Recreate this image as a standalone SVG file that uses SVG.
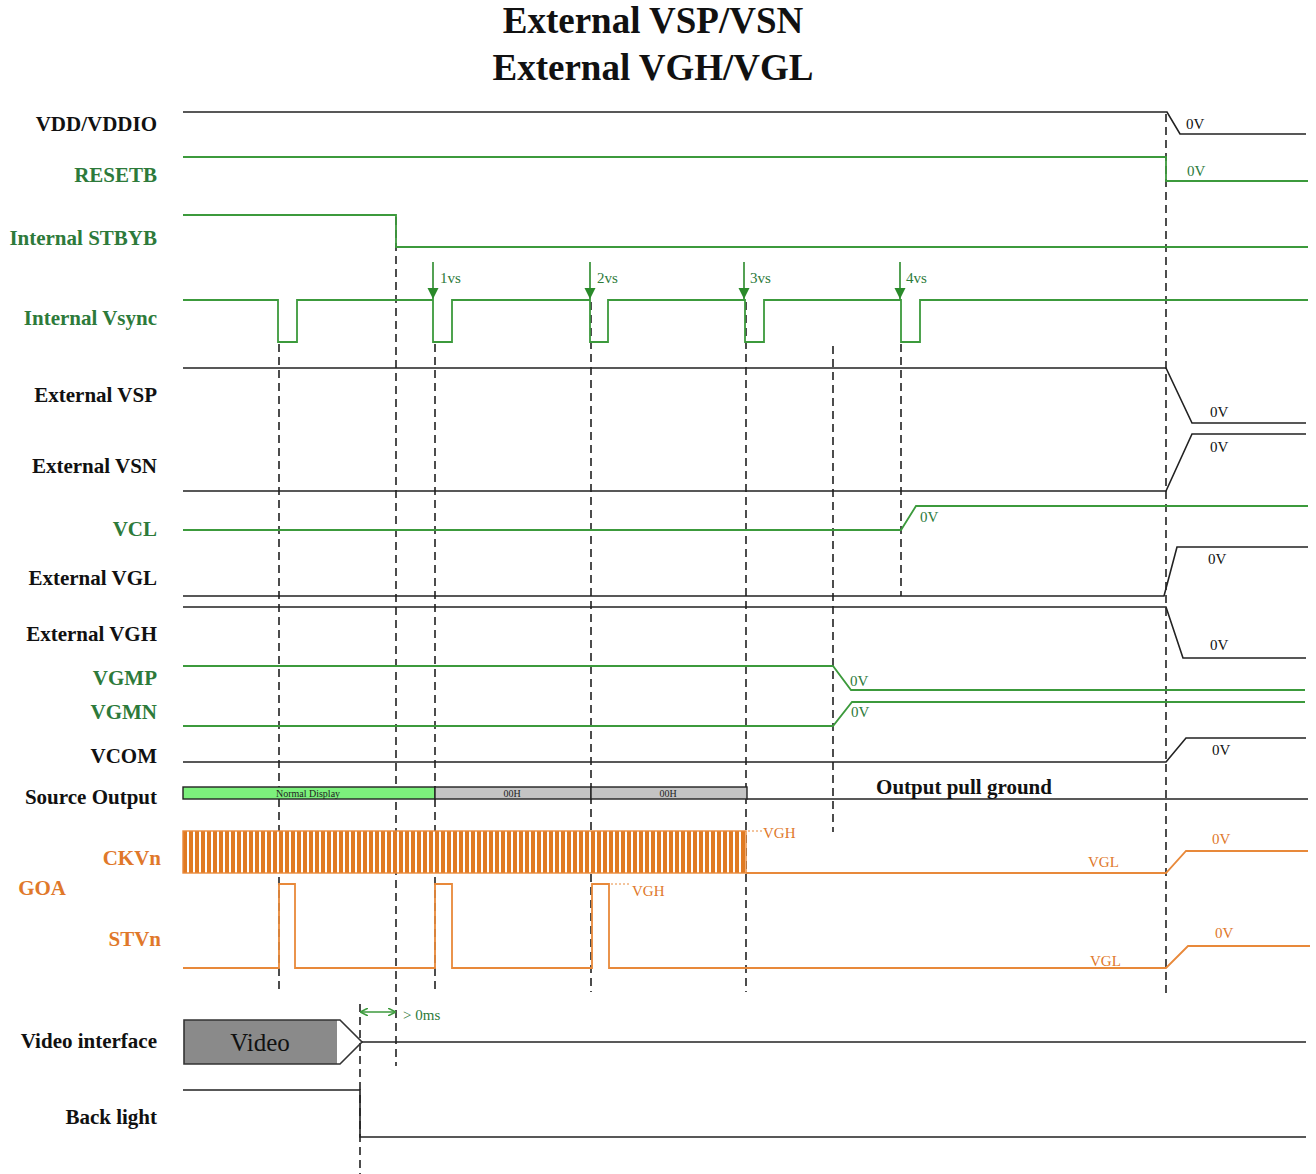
<svg xmlns="http://www.w3.org/2000/svg" width="1316" height="1174" viewBox="0 0 1316 1174">
<style>
.lbl{font-family:"Liberation Serif","Times New Roman",serif;font-weight:bold;font-size:21px;text-anchor:end}
.blk{fill:#111}
.grn{fill:#2d7a3a}
.org{fill:#e0782a}
.title{font-family:"Liberation Serif","Times New Roman",serif;font-weight:bold;font-size:37px;text-anchor:middle;fill:#111}
.sm{font-family:"Liberation Serif","Times New Roman",serif;font-size:15px}
.tiny{font-family:"Liberation Serif","Times New Roman",serif;font-size:10px;text-anchor:middle;fill:#222}
.wb{fill:none;stroke:#222;stroke-width:1.6}
.wg{fill:none;stroke:#3c9a3c;stroke-width:1.8}
.wo{fill:none;stroke:#e8893a;stroke-width:1.8}
.dash{fill:none;stroke:#3a3a3a;stroke-width:1.8;stroke-dasharray:8 5}
.lead{fill:none;stroke:#e8893a;stroke-width:1;stroke-dasharray:2 2}
</style>
<defs>
<marker id="ah" viewBox="0 0 10 10" refX="10" refY="5" markerWidth="11" markerHeight="12" markerUnits="userSpaceOnUse" orient="auto-start-reverse">
<path d="M0,0 L10,5 L0,10 z" fill="#2a8a2a"/>
</marker>
<marker id="ao" viewBox="0 0 10 10" refX="9" refY="5" markerWidth="8" markerHeight="8" markerUnits="userSpaceOnUse" orient="auto-start-reverse">
<path d="M0,0 L10,5 L0,10" fill="none" stroke="#3c9a3c" stroke-width="2"/>
</marker>
<pattern id="hatch" x="183" y="0" width="6" height="10" patternUnits="userSpaceOnUse">
<rect x="0" y="0" width="6" height="10" fill="#e07a22"/>
<rect x="4" y="0" width="2" height="10" fill="#ffffff"/>
</pattern>
</defs>
<rect width="1316" height="1174" fill="#ffffff"/>

<g id="title">
<text class="title" x="653" y="33">External VSP/VSN</text>
<text class="title" x="653" y="80">External VGH/VGL</text>
</g>

<g id="connectors">
<line class="dash" x1="279" y1="344" x2="279" y2="992"/>
<line class="dash" x1="396" y1="217" x2="396" y2="1066"/>
<line class="dash" x1="435" y1="344" x2="435" y2="992"/>
<line class="dash" x1="591" y1="302" x2="591" y2="992"/>
<line class="dash" x1="746" y1="302" x2="746" y2="992"/>
<line class="dash" x1="833" y1="346" x2="833" y2="832"/>
<line class="dash" x1="901" y1="344" x2="901" y2="596"/>
<line class="dash" x1="1166" y1="114" x2="1166" y2="996"/>
<line class="dash" x1="360" y1="1004" x2="360" y2="1174"/>
<line x1="433" y1="262" x2="433" y2="299" stroke="#2a8a2a" stroke-width="1.6" marker-end="url(#ah)"/>
<line x1="590" y1="262" x2="590" y2="299" stroke="#2a8a2a" stroke-width="1.6" marker-end="url(#ah)"/>
<line x1="744" y1="262" x2="744" y2="299" stroke="#2a8a2a" stroke-width="1.6" marker-end="url(#ah)"/>
<line x1="900" y1="262" x2="900" y2="299" stroke="#2a8a2a" stroke-width="1.6" marker-end="url(#ah)"/>
<line x1="361" y1="1012" x2="395" y2="1012" stroke="#3c9a3c" stroke-width="1.6" marker-start="url(#ao)" marker-end="url(#ao)"/>
</g>

<g id="vdd">
<text class="lbl blk" x="157" y="131">VDD/VDDIO</text>
<path class="wb" d="M183,112 H1167 L1180,134 H1306"/>
<text class="sm blk" x="1186" y="129">0V</text>
</g>

<g id="resetb">
<text class="lbl grn" x="157" y="182">RESETB</text>
<path class="wg" d="M183,157 H1166 V181 H1308"/>
<text class="sm grn" x="1187" y="176">0V</text>
</g>

<g id="stbyb">
<text class="lbl grn" x="157" y="245">Internal STBYB</text>
<path class="wg" d="M183,215 H396 V247 H1308"/>
</g>

<g id="vsync">
<text class="lbl grn" x="157" y="325">Internal Vsync</text>
<path class="wg" d="M183,300 H278 V342 H297 V300 H433 V342 H452 V300 H590 V342 H608 V300 H745 V342 H764 V300 H901 V342 H920 V300 H1308"/>
<text class="sm grn" x="440" y="283">1vs</text>
<text class="sm grn" x="597" y="283">2vs</text>
<text class="sm grn" x="750" y="283">3vs</text>
<text class="sm grn" x="906" y="283">4vs</text>
</g>

<g id="vsp">
<text class="lbl blk" x="157" y="402">External VSP</text>
<path class="wb" d="M183,368 H1166 L1192,423 H1306"/>
<text class="sm blk" x="1210" y="417">0V</text>
</g>

<g id="vsn">
<text class="lbl blk" x="157" y="473">External VSN</text>
<path class="wb" d="M183,491 H1166 L1192,434 H1306"/>
<text class="sm blk" x="1210" y="452">0V</text>
</g>

<g id="vcl">
<text class="lbl grn" x="157" y="536">VCL</text>
<path class="wg" d="M183,530 H901 L916,506 H1308"/>
<text class="sm grn" x="920" y="522">0V</text>
</g>

<g id="vgl">
<text class="lbl blk" x="157" y="585">External VGL</text>
<path class="wb" d="M183,596 H1164 L1177,547 H1308"/>
<text class="sm blk" x="1208" y="564">0V</text>
</g>

<g id="vgh">
<text class="lbl blk" x="157" y="641">External VGH</text>
<path class="wb" d="M183,607 H1166 L1183,658 H1306"/>
<text class="sm blk" x="1210" y="650">0V</text>
</g>

<g id="vgmp">
<text class="lbl grn" x="157" y="685">VGMP</text>
<path class="wg" d="M183,666 H833 L851,690 H1305"/>
<text class="sm grn" x="850" y="686">0V</text>
</g>

<g id="vgmn">
<text class="lbl grn" x="157" y="719">VGMN</text>
<path class="wg" d="M183,726 H833 L852,702 H1305"/>
<text class="sm grn" x="851" y="717">0V</text>
</g>

<g id="vcom">
<text class="lbl blk" x="157" y="763">VCOM</text>
<path class="wb" d="M183,762 H1166 L1186,738 H1306"/>
<text class="sm blk" x="1212" y="755">0V</text>
</g>

<g id="source">
<text class="lbl blk" x="157" y="804">Source Output</text>
<rect x="183" y="787" width="252" height="12" fill="#7cf07c" stroke="#222" stroke-width="1.4"/>
<rect x="435" y="787" width="156" height="12" fill="#c4c4c4" stroke="#222" stroke-width="1.4"/>
<rect x="591" y="787" width="156" height="12" fill="#c4c4c4" stroke="#222" stroke-width="1.4"/>
<text class="tiny" x="308" y="797">Normal Display</text>
<text class="tiny" x="512" y="797">00H</text>
<text class="tiny" x="668" y="797">00H</text>
<path class="wb" d="M747,799 H1308"/>
<text x="964" y="794" style="font-family:'Liberation Serif','Times New Roman',serif;font-weight:bold;font-size:21px;text-anchor:middle" class="blk">Output pull ground</text>
</g>

<g id="goa">
<text class="lbl org" x="66" y="895">GOA</text>
</g>

<g id="ckvn">
<text class="lbl org" x="161" y="865">CKVn</text>
<rect x="183" y="831" width="563" height="42" fill="url(#hatch)" stroke="#e8893a" stroke-width="1.4"/>
<path class="wo" d="M746,873 H1166 L1186,851 H1308"/>
<path class="lead" d="M748,831 H762"/>
<text class="sm org" x="763" y="838">VGH</text>
<text class="sm org" x="1088" y="867">VGL</text>
<text class="sm org" x="1212" y="844">0V</text>
</g>

<g id="stvn">
<text class="lbl org" x="161" y="946">STVn</text>
<path class="wo" d="M183,968 H279 V884 H295 V968 H435 V884 H452 V968 H592 V884 H609 V968 H1166 L1188,946 H1310"/>
<path class="lead" d="M611,884 H630"/>
<text class="sm org" x="632" y="896">VGH</text>
<text class="sm org" x="1090" y="966">VGL</text>
<text class="sm org" x="1215" y="938">0V</text>
</g>

<g id="video">
<text class="lbl blk" x="157" y="1048">Video interface</text>
<path d="M184,1020 H337 V1064 H184 Z" fill="#8a8a8a"/>
<path d="M184,1020 H340 L362,1042 L340,1064 H184 Z" fill="none" stroke="#333" stroke-width="1.6"/>
<text x="260" y="1051" style="font-family:'Liberation Serif','Times New Roman',serif;font-size:25px;text-anchor:middle" class="blk">Video</text>
<path class="wb" d="M362,1042 H1306"/>
<text class="sm grn" x="403" y="1020">&gt; 0ms</text>
</g>

<g id="backlight">
<text class="lbl blk" x="157" y="1124">Back light</text>
<path class="wb" d="M183,1090 H360 V1137 H1306"/>
</g>
</svg>
